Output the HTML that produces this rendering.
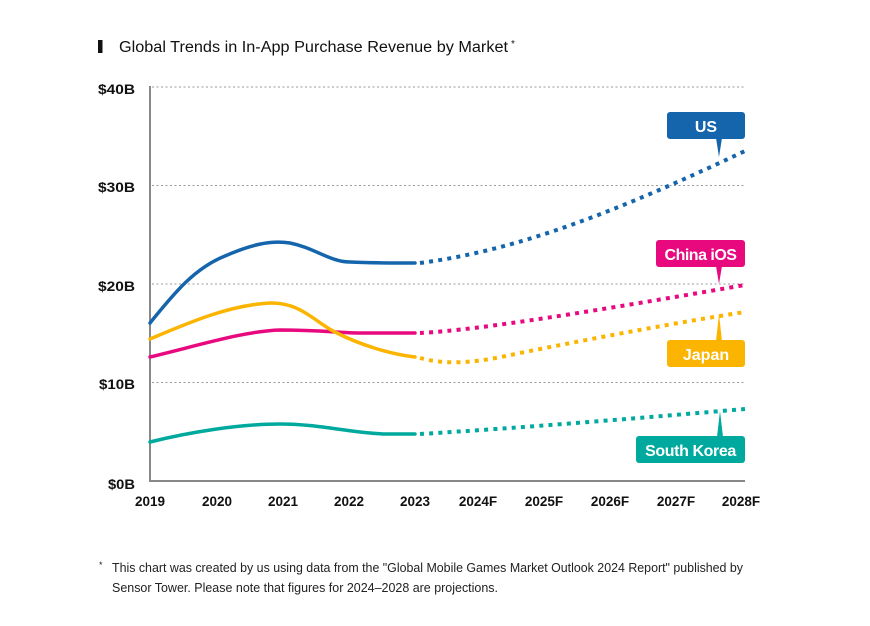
<!DOCTYPE html>
<html>
<head>
<meta charset="utf-8">
<style>
  html,body{margin:0;padding:0;background:#fff;}
  svg{display:block;}
  text{font-family:"Liberation Sans",sans-serif;}
</style>
</head>
<body>
<svg width="870" height="626" viewBox="0 0 870 626" xmlns="http://www.w3.org/2000/svg">
  <rect width="870" height="626" fill="#fff"/>
  <!-- Title -->
  <rect x="98" y="40" width="4.5" height="13" fill="#111"/>
  <text x="119" y="52" font-size="15.5" fill="#111" textLength="389" lengthAdjust="spacingAndGlyphs">Global Trends in In-App Purchase Revenue by Market</text>
  <text x="511" y="47" font-size="10" fill="#111">*</text>

  <!-- Gridlines -->
  <g stroke="#999" stroke-width="1" stroke-dasharray="2 2.5">
    <line x1="152" y1="87" x2="745" y2="87"/>
    <line x1="152" y1="185.5" x2="745" y2="185.5"/>
    <line x1="152" y1="284" x2="745" y2="284"/>
    <line x1="152" y1="382.5" x2="745" y2="382.5"/>
  </g>
  <!-- Axes -->
  <line x1="150" y1="86" x2="150" y2="482" stroke="#888" stroke-width="2"/>
  <line x1="149" y1="481" x2="745" y2="481" stroke="#888" stroke-width="2"/>

  <!-- Y labels -->
  <g font-size="14" font-weight="bold" fill="#111">
    <text x="98" y="94" textLength="37" lengthAdjust="spacingAndGlyphs">$40B</text>
    <text x="98" y="192" textLength="37" lengthAdjust="spacingAndGlyphs">$30B</text>
    <text x="98" y="291" textLength="37" lengthAdjust="spacingAndGlyphs">$20B</text>
    <text x="99" y="389" textLength="36" lengthAdjust="spacingAndGlyphs">$10B</text>
    <text x="108" y="489" textLength="27" lengthAdjust="spacingAndGlyphs">$0B</text>
  </g>
  <!-- X labels -->
  <g font-size="13.5" font-weight="bold" fill="#111" text-anchor="middle">
    <text x="150" y="506">2019</text>
    <text x="217" y="506">2020</text>
    <text x="283" y="506">2021</text>
    <text x="349" y="506">2022</text>
    <text x="415" y="506">2023</text>
    <text x="478" y="506">2024F</text>
    <text x="544" y="506">2025F</text>
    <text x="610" y="506">2026F</text>
    <text x="676" y="506">2027F</text>
    <text x="741" y="506">2028F</text>
  </g>

  <!-- Solid series -->
  <g fill="none" stroke-width="3.5" stroke-linecap="round">
    <path d="M150,442 C190,432 240,424 280,424 C320,424 350,433 385,434 L415,434" stroke="#00a99d"/>
    <path d="M150,357 C200,345 245,331 280,330 C320,330 340,333 360,333 L415,333" stroke="#e8097f"/>
    <path d="M150,339 C190,322 230,305 270,303 C300,302 315,322 335,332 C360,345 390,354 415,357" stroke="#fbb400"/>
    <path d="M150,323 C175,292 195,268 225,256 C250,245 270,240 290,243 C315,248 330,262 350,262 C370,263 395,263 415,263" stroke="#1565ad"/>
  </g>
  <!-- Dotted projections -->
  <g fill="none" stroke-width="4" stroke-dasharray="4 5.2">
    <path d="M420,434 C520,428 640,418 745,409" stroke="#00a99d"/>
    <path d="M420,333 C480,330 600,310 745,285" stroke="#e8097f"/>
    <path d="M420,358 C450,366 480,362 520,353 C600,337 680,322 745,312" stroke="#fbb400"/>
    <path d="M420,263 C520,250 620,210 745,151" stroke="#1565ad"/>
  </g>

  <!-- Labels -->
  <g font-size="16" font-weight="bold" fill="#fff" text-anchor="middle">
    <rect x="667" y="112" width="78" height="27" rx="3" fill="#1565ad"/>
    <polygon points="716,138 722,138 719,157" fill="#1565ad"/>
    <text x="706" y="132">US</text>

    <rect x="656" y="240" width="89" height="27" rx="3" fill="#e8097f"/>
    <polygon points="716,266 722,266 719,284" fill="#e8097f"/>
    <text x="700.5" y="260" letter-spacing="-0.5">China iOS</text>

    <rect x="667" y="340" width="78" height="27" rx="3" fill="#fbb400"/>
    <polygon points="716,341 722,341 719,314" fill="#fbb400"/>
    <text x="706" y="360">Japan</text>

    <rect x="636" y="436" width="109" height="27" rx="3" fill="#00a99d"/>
    <polygon points="717,437 723,437 720,411" fill="#00a99d"/>
    <text x="690.5" y="456" letter-spacing="-0.4">South Korea</text>
  </g>

  <!-- Footnote -->
  <text x="99" y="568" font-size="9" fill="#222">*</text>
  <text x="112" y="572" font-size="12.5" fill="#222" textLength="631" lengthAdjust="spacingAndGlyphs">This chart was created by us using data from the "Global Mobile Games Market Outlook 2024 Report" published by</text>
  <text x="112" y="592" font-size="12.5" fill="#222" textLength="386" lengthAdjust="spacingAndGlyphs">Sensor Tower. Please note that figures for 2024–2028 are projections.</text>
</svg>
</body>
</html>
